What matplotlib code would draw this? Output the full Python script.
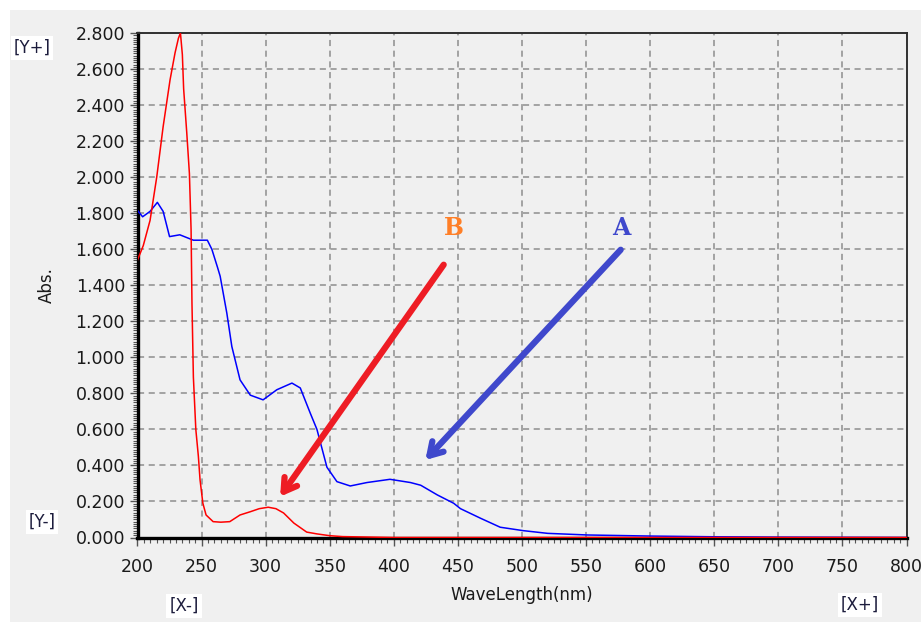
import matplotlib
matplotlib.use("Agg")
import matplotlib.pyplot as plt
from matplotlib.patches import Rectangle
from matplotlib.ticker import MultipleLocator, FormatStrFormatter

# ---- data ----
red_nm = [200, 204.5, 209.8, 215, 220, 225.4, 229.3, 231.9, 233.5, 235, 236, 238.4, 240.5,
          241.8, 242.5, 243.6, 245.5, 247.5, 248.8, 251, 253.5, 259, 265, 272, 280, 288,
          295, 302, 308, 314, 322, 332, 340, 350, 360, 400, 500, 600, 700, 800]
red_abs = [1.54, 1.62, 1.76, 2.00, 2.28, 2.54, 2.69, 2.77, 2.80, 2.68, 2.49, 2.25, 2.02,
           1.71, 1.30, 0.89, 0.60, 0.45, 0.32, 0.19, 0.125, 0.088, 0.085, 0.088, 0.125, 0.143,
           0.16, 0.168, 0.16, 0.136, 0.08, 0.03, 0.02, 0.01, 0.005, 0.0, 0.0, 0.0, 0.0, 0.0]

blue_nm = [200, 204, 209.8, 215.5, 220, 225, 233, 243.6, 254.5, 258, 262.4, 264.5, 269.7,
           273.6, 280, 288, 298, 308.7, 320.5, 327, 334.8, 340, 347.8, 355.6, 366, 379, 397,
           413, 421, 434, 446.7, 452, 467.6, 483, 501, 520, 551, 600, 650, 700, 800]
blue_abs = [1.815, 1.78, 1.81, 1.86, 1.81, 1.67, 1.68, 1.65, 1.65, 1.60, 1.50, 1.45, 1.245,
            1.06, 0.875, 0.79, 0.764, 0.82, 0.857, 0.83, 0.69, 0.60, 0.39, 0.31, 0.286, 0.305,
            0.323, 0.305, 0.29, 0.236, 0.19, 0.16, 0.107, 0.057, 0.038, 0.023, 0.014, 0.008,
            0.004, 0.002, 0.0]

x_ticks = [200, 250, 300, 350, 400, 450, 500, 550, 600, 650, 700, 750, 800]
y_ticks = [0.0, 0.2, 0.4, 0.6, 0.8, 1.0, 1.2, 1.4, 1.6, 1.8, 2.0, 2.2, 2.4, 2.6, 2.8]

# arrows (tail -> head) and labels
arrow_B = ((438.9, 1.514), (311.3, 0.227))
arrow_A = ((577.0, 1.597), (424.6, 0.43))
label_B = (446.5, 1.72)
label_A = (577.7, 1.72)

W, H = 921, 622
fig = plt.figure(figsize=(W / 100, H / 100), dpi=100)
fig.patch.set_facecolor("white")
fig.patches.append(Rectangle((10 / W, 0), 1, 1 - 10 / H, transform=fig.transFigure,
                             facecolor="#f0f0f0", edgecolor="none", zorder=-10))

ax = fig.add_axes([137.5 / W, 1 - 537.5 / H, 769 / W, 504.5 / H])
ax.set_facecolor("#f0f0f0")

ax.plot(blue_nm, blue_abs, color="#0000ff", lw=1.1, zorder=3)
ax.plot(red_nm, red_abs, color="#ff0000", lw=1.1, zorder=4)

ax.set_xlim(200, 800)
ax.set_ylim(0, 2.8)
ax.set_xticks(x_ticks)
ax.set_yticks(y_ticks)
ax.yaxis.set_major_formatter(FormatStrFormatter("%.3f"))
ax.xaxis.set_minor_locator(MultipleLocator(5))
ax.yaxis.set_minor_locator(MultipleLocator(0.0125))

ax.grid(True, which="major", color="#8e8e8e", linestyle=(0, (4, 3)), lw=1.1, zorder=1)
ax.set_axisbelow(True)

for s in ["left", "bottom"]:
    ax.spines[s].set_linewidth(2.4)
    ax.spines[s].set_color("black")
for s in ["top", "right"]:
    ax.spines[s].set_linewidth(1.4)
    ax.spines[s].set_color("#303030")

ax.tick_params(axis="both", which="major", length=6, width=1.0, color="#555555",
               labelsize=12.5, labelcolor="#1a1a1a")
ax.tick_params(axis="both", which="minor", length=3.5, width=0.8, color="#555555")
ax.tick_params(axis="x", which="major", pad=9)
ax.tick_params(axis="y", which="major", pad=3)

ax.set_xlabel("WaveLength(nm)", fontsize=12, color="#1a1a1a", labelpad=7)
ax.set_ylabel("Abs.", fontsize=12, color="#1a1a1a", labelpad=14)

# arrows
ax.annotate("", xy=arrow_B[1], xytext=arrow_B[0],
            arrowprops=dict(arrowstyle="->,head_length=0.9,head_width=0.55",
                            color="#ee1c24", lw=4.5, shrinkA=0, shrinkB=0), zorder=5)
ax.annotate("", xy=arrow_A[1], xytext=arrow_A[0],
            arrowprops=dict(arrowstyle="->,head_length=0.9,head_width=0.55",
                            color="#3f48cc", lw=4.5, shrinkA=0, shrinkB=0), zorder=5)
ax.text(*label_B, "B", color="#ff7f27", fontsize=17, fontweight="bold",
        family="DejaVu Serif", ha="center", va="center", zorder=6)
ax.text(*label_A, "A", color="#3f48cc", fontsize=17, fontweight="bold",
        family="DejaVu Serif", ha="center", va="center", zorder=6)

# corner markers
box = dict(facecolor="white", edgecolor="none", pad=2)
def marker(x, y, s):
    fig.text(x / W, 1 - y / H, s, fontsize=12, color="#1c1c3c", ha="center", va="center",
             bbox=box)
marker(32, 48, "[Y+]")
marker(42, 522, "[Y-]")
marker(184, 606, "[X-]")
marker(860, 605, "[X+]")

fig.savefig("out.png", dpi=100)
